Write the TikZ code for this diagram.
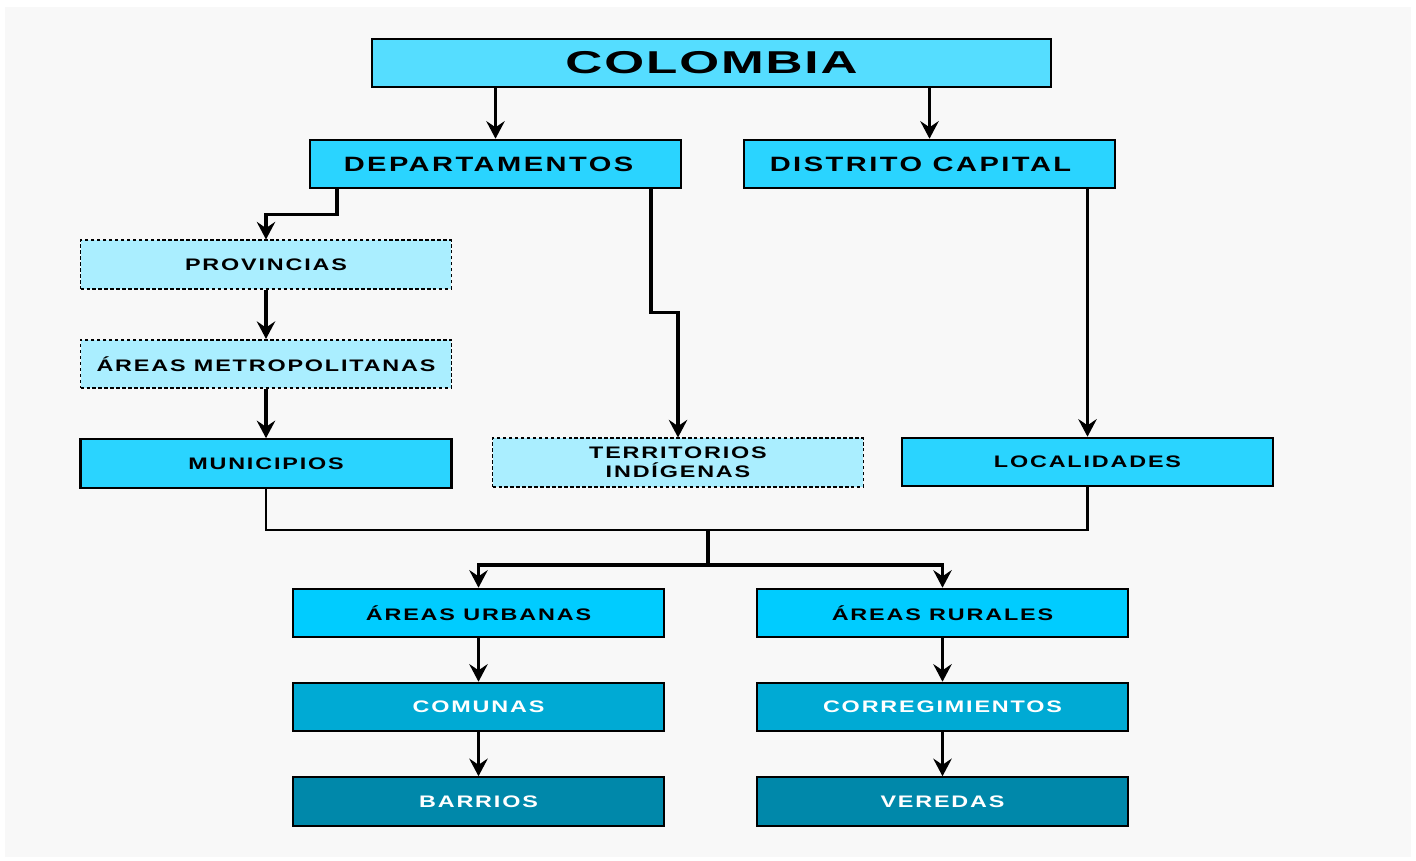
\documentclass[tikz,border=0pt]{standalone}
\usepackage{fontspec}
\usepackage{tikz}
\usetikzlibrary{arrows.meta}
\newfontfamily\titlefont{Liberation Sans}[FakeStretch=1.62,LetterSpace=6]
\newfontfamily\boxfont{Liberation Sans}[FakeStretch=1.4,LetterSpace=12]
\newfontfamily\smallfont{Liberation Sans}[FakeStretch=1.4,LetterSpace=11]
\definecolor{backgray}{HTML}{F8F8F8}
\definecolor{titleblue}{HTML}{55DDFF}
\definecolor{midblue}{HTML}{2AD4FF}
\definecolor{paleblue}{HTML}{AAEEFF}
\definecolor{areablue}{HTML}{00CCFF}
\definecolor{deepblue}{HTML}{00AAD4}
\definecolor{darkblue}{HTML}{0088AA}

\begin{document}
\begin{tikzpicture}[x=0.02cm, y=-0.02cm,
    levelbox/.style={draw=black, line width=1.2pt, minimum width=7.42cm, minimum height=0.97cm,
      inner sep=0pt, align=center, font=\smallfont\bfseries\fontsize{9.5}{10.8}\selectfont},
    solidbox/.style={levelbox, fill=midblue},
    headbox/.style={solidbox, font=\boxfont\bfseries\fontsize{11.8}{13.5}\selectfont},
    dashbox/.style={levelbox, fill=paleblue, line width=0.9pt, dash pattern=on 2pt off 1.4pt},
    areabox/.style={levelbox, fill=areablue},
    whitebox/.style={levelbox, text=white},
    arr/.style={line width=1.8pt, -{Stealth[length=10pt, width=10.5pt, inset=3.5pt]}},
    link/.style={line width=1.6pt}]
    \useasboundingbox (0,0) rectangle (1416,860);
    \fill[backgray] (5,7) rectangle (1411,857);
    \node [draw=black, line width=1.2pt, fill=titleblue, minimum width=13.58cm, minimum height=0.96cm,
      inner sep=0pt, font=\titlefont\bfseries\fontsize{18}{22}\selectfont] (col) at (711.5,63) {COLOMBIA};
    \node [headbox] (dep) at (495.5,164) {\hspace*{-0.28cm}DEPARTAMENTOS};
    \node [headbox] (dc) at (929.5,164) {\hspace*{-0.36cm}DISTRITO CAPITAL};
    \node [dashbox] (prov) at (266,264.5) {PROVINCIAS};
    \node [dashbox] (metro) at (266,364) {ÁREAS METROPOLITANAS};
    \node [solidbox] (mun) at (266,463.5) {MUNICIPIOS};
    \node [dashbox] (ter) at (678,462.5) {TERRITORIOS\\INDÍGENAS};
    \node [solidbox] (loc) at (1087.5,462) {LOCALIDADES};
    \node [areabox] (urb) at (478.5,613) {ÁREAS URBANAS};
    \node [areabox] (rur) at (942.5,613) {ÁREAS RURALES};
    \node [whitebox, fill=deepblue] (com) at (478.5,707) {COMUNAS};
    \node [whitebox, fill=deepblue] (cor) at (942.5,707) {CORREGIMIENTOS};
    \node [whitebox, fill=darkblue] (bar) at (478.5,801.5) {BARRIOS};
    \node [whitebox, fill=darkblue] (ver) at (942.5,801.5) {VEREDAS};
    \draw[arr] (col.south -| dep.north) -- (dep.north);
    \draw[arr] (col.south -| dc.north) -- (dc.north);
    \draw[arr] ([xshift=-3.17cm]dep.south) -- ++(0,25) -| (prov.north);
    \draw[arr] (prov.south) -- (metro.north);
    \draw[arr] (metro.south) -- (mun.north);
    \draw[arr] ([xshift=3.11cm]dep.south) -- ++(0,123) -| (ter.north);
    \draw[arr] (dc.south -| loc.north) -- (loc.north);
    \coordinate (split) at (708,530);
    \draw[link] (mun.south) |- (split) -| (loc.south);
    \draw[link, line width=2.2pt] (split) -- ++(0,35) coordinate (fork);
    \draw[arr] (fork) -| (urb.north);
    \draw[arr] (fork) -| (rur.north);
    \draw[arr] (urb.south) -- (com.north);
    \draw[arr] (com.south) -- (bar.north);
    \draw[arr] (rur.south) -- (cor.north);
    \draw[arr] (cor.south) -- (ver.north);
\end{tikzpicture}
\end{document}
